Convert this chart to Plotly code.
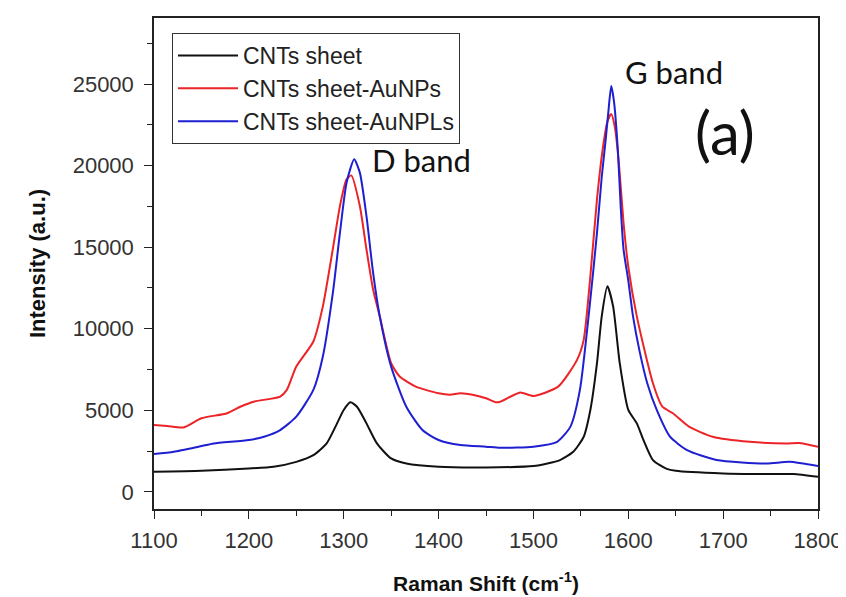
import plotly.graph_objects as go

# --- data ---
black_x = [1100, 1150, 1200, 1226, 1250, 1268, 1282, 1293, 1300, 1307, 1314, 1324, 1335, 1350, 1366,
           1400, 1450, 1500, 1528, 1542, 1553, 1560, 1567, 1572, 1578, 1584, 1591, 1600, 1609, 1616,
           1626, 1640, 1650, 1700, 1750, 1774, 1800]
black_y = [1230, 1290, 1430, 1540, 1840, 2250, 2970, 4200, 5020, 5490, 5220, 4200, 2970, 2050, 1740,
           1540, 1500, 1580, 1950, 2460, 3380, 5020, 7890, 10760, 12600, 11370, 7890, 5020, 4200, 3180,
           1950, 1430, 1290, 1130, 1090, 1090, 920]

red_x = [1100, 1114, 1131, 1150, 1177, 1191, 1205, 1233, 1240, 1250, 1268, 1278, 1289, 1296, 1303,
         1308, 1317, 1324, 1331, 1338, 1350, 1359, 1376, 1400, 1412, 1423, 1437, 1450, 1460, 1465,
         1486, 1500, 1526, 1546, 1553, 1560, 1567, 1573, 1578, 1582, 1586, 1590, 1595, 1600, 1609,
         1626, 1636, 1647, 1664, 1689, 1728, 1767, 1780, 1800]
red_y = [4100, 4040, 3950, 4510, 4820, 5220, 5530, 5840, 6250, 7680, 9220, 11370, 15060, 17520, 19160,
         19400, 17520, 14860, 12400, 10760, 7890, 7070, 6450, 6040, 5950, 6040, 5940, 5740, 5500, 5530,
         6090, 5880, 6450, 8090, 9320, 13220, 17930, 21000, 22700, 23160, 22300, 20200, 16500, 13800, 10760,
         6660, 5220, 4820, 4000, 3380, 3070, 2970, 3000, 2770]

blue_x = [1100, 1121, 1150, 1163, 1200, 1216, 1233, 1250, 1268, 1278, 1289, 1296, 1303, 1311, 1317,
          1324, 1331, 1338, 1350, 1366, 1383, 1400, 1423, 1450, 1465, 1500, 1525, 1539, 1549, 1560,
          1567, 1572, 1576, 1579, 1582, 1585, 1589, 1592, 1595, 1600, 1605, 1612, 1620, 1630, 1644,
          1662, 1693, 1746, 1770, 1800]
blue_y = [2315, 2460, 2810, 2970, 3180, 3380, 3790, 4610, 6250, 8300, 12400, 15880, 18950, 20390, 19570,
          16900, 13420, 10760, 7680, 5220, 3790, 3180, 2870, 2770, 2700, 2770, 3070, 4000, 6250, 11780,
          15880, 19300, 21500, 23300, 24880, 23900, 20960, 17500, 14860, 12950, 10760, 8600, 6660, 5020, 3380,
          2560, 1950, 1740, 1840, 1580]

series_names = ["CNTs sheet", "CNTs sheet-AuNPs", "CNTs sheet-AuNPLs"]
x_tick_vals = [1100, 1200, 1300, 1400, 1500, 1600, 1700, 1800]
y_tick_vals = [0, 5000, 10000, 15000, 20000, 25000]

# page body has an 8px margin: figure is placed at (8, 8)
OFF = 8
W, H = 846 - OFF, 597 - OFF
ML, MR, MT, MB = 154 - OFF, 28, 18 - OFF, 88
PW, PH = W - ML - MR, H - MT - MB

fig = go.Figure()
for name, xs, ys, col in [
    (series_names[0], black_x, black_y, "#111111"),
    (series_names[1], red_x, red_y, "#ec2327"),
    (series_names[2], blue_x, blue_y, "#1f1fd2"),
]:
    fig.add_trace(go.Scatter(x=xs, y=ys, mode="lines", name=name,
                             line=dict(color=col, width=2, shape="spline", smoothing=0.6)))

axis_common = dict(showline=True, linecolor="#222", linewidth=1.5, mirror=True,
                   ticks="outside", ticklen=8, tickwidth=1.2, tickcolor="#222",
                   showgrid=False, zeroline=False, tickformat="d",
                   tickfont=dict(family="Liberation Sans, Arial", size=22, color="#333"))

fig.update_layout(
    width=W, height=H,
    margin=dict(l=ML, r=MR, t=MT, b=MB, autoexpand=False),
    paper_bgcolor="white", plot_bgcolor="white",
    showlegend=True,
    legend=dict(x=(172 - 154) / PW, y=1 - (33 - 18) / PH, xanchor="left", yanchor="top",
                bordercolor="#333", borderwidth=1, bgcolor="white",
                font=dict(family="Liberation Sans, Arial", size=23, color="#222"),
                itemwidth=60, tracegroupgap=0),
    xaxis=dict(range=[1100, 1800], tickvals=x_tick_vals, ticklabelstandoff=3,
               minor=dict(dtick=50, tick0=1100, ticks="outside", ticklen=5, tickcolor="#222"),
               title=dict(text="<b>Raman Shift (cm<sup>-1</sup>)</b>", standoff=24,
                          font=dict(family="Liberation Sans, Arial", size=21, color="#111")),
               **axis_common),
    yaxis=dict(range=[-1050, 29050], tickvals=y_tick_vals, ticklabelstandoff=6,
               minor=dict(dtick=2500, tick0=0, ticks="outside", ticklen=5, tickcolor="#222"),
               title=dict(text="<b>Intensity (a.u.)</b>", standoff=21,
                          font=dict(family="Liberation Sans, Arial", size=22, color="#111")),
               **axis_common),
)

ann_font = "Lato, Open Sans, sans-serif"
for txt, px, py, sz in [("D band", 421, 160, 31), ("G band", 674, 72, 31), ("(a)", 725, 132, 60)]:
    fig.add_annotation(x=(px - 154) / PW, y=1 - (py - 18) / PH, xref="paper", yref="paper",
                       xanchor="center", yanchor="middle", text=txt, showarrow=False,
                       font=dict(family=ann_font, size=sz, color="#111"))

fig.write_html("out.html")
